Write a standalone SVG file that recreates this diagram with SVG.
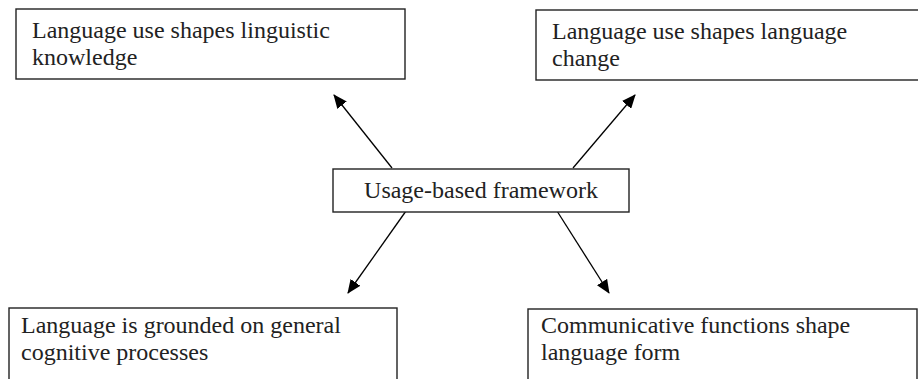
<svg xmlns="http://www.w3.org/2000/svg" width="918" height="379" viewBox="0 0 918 379">
<style>
.box{fill:#fff;stroke:#222;stroke-width:1.4}
.t{font-family:"Liberation Serif","Times New Roman",serif;font-size:24px;fill:#222}
.c{stroke:#000;stroke-width:1.3;fill:none;marker-end:url(#ah)}
</style>
<defs>
<marker id="ah" markerUnits="userSpaceOnUse" markerWidth="14" markerHeight="12" refX="13" refY="6" orient="auto" viewBox="0 0 14 12">
<path d="M0,0 L14,6 L0,12 z" fill="#000"/>
</marker>
</defs>
<rect width="918" height="379" fill="#fff"/>
<g id="connectors">
<line class="c" x1="392" y1="168" x2="334" y2="95"/>
<line class="c" x1="573" y1="168" x2="635" y2="95"/>
<line class="c" x1="406" y1="211" x2="348" y2="293"/>
<line class="c" x1="557" y1="211" x2="609" y2="293"/>
</g>
<g id="n-center">
<rect class="box" x="333" y="169" width="296" height="43"/>
<text class="t" x="481" y="198" text-anchor="middle">Usage-based framework</text>
</g>
<g id="n-knowledge">
<rect class="box" x="16" y="9" width="389" height="70"/>
<text class="t" x="32" y="38">Language use shapes linguistic</text>
<text class="t" x="32" y="65">knowledge</text>
</g>
<g id="n-change">
<rect class="box" x="536" y="10" width="384" height="70"/>
<text class="t" x="552" y="39">Language use shapes language</text>
<text class="t" x="552" y="66">change</text>
</g>
<g id="n-cognitive">
<rect class="box" x="9" y="308" width="388" height="80"/>
<text class="t" x="21" y="333">Language is grounded on general</text>
<text class="t" x="21" y="360">cognitive processes</text>
</g>
<g id="n-functions">
<rect class="box" x="528" y="309" width="389" height="80"/>
<text class="t" x="541" y="333">Communicative functions shape</text>
<text class="t" x="541" y="360">language form</text>
</g>
</svg>
